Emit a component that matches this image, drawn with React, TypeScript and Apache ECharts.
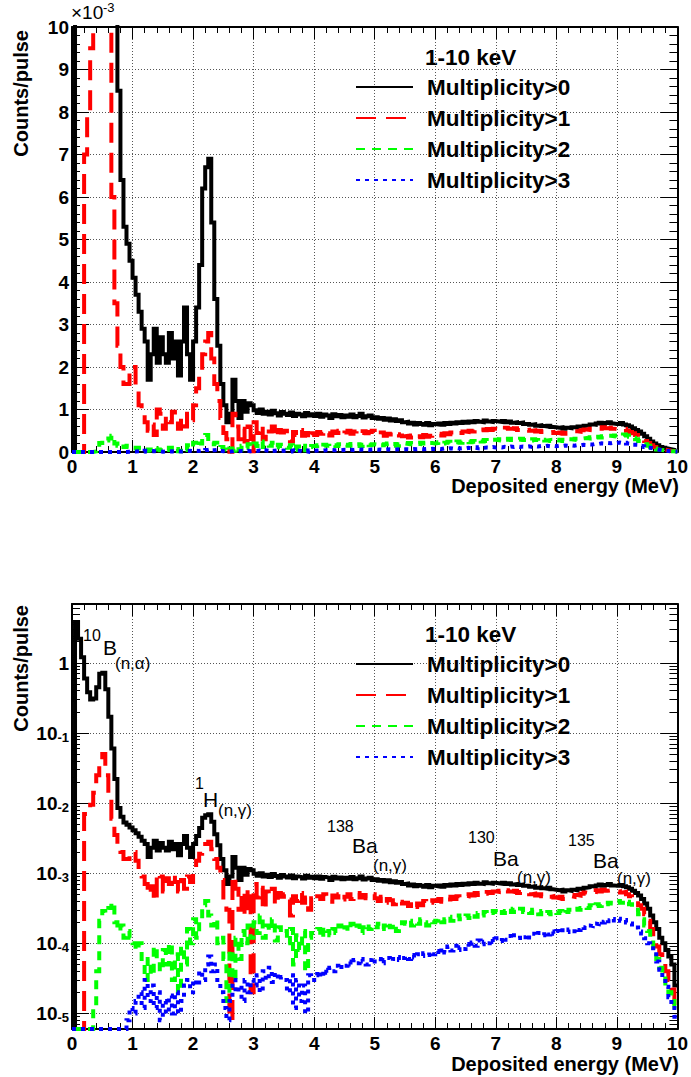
import React, { useEffect, useRef } from 'react';
import * as echarts from 'echarts';

const FONT = '"Liberation Sans", Arial, Helvetica, sans-serif';

// Histogram binning: 200 bins of 0.05 MeV from 0 to 10 MeV
const BIN_WIDTH = 0.05;
const xTickValues = [0, 1, 2, 3, 4, 5, 6, 7, 8, 9, 10];

const seriesNames = ['Multiplicity>0', 'Multiplicity>1', 'Multiplicity>2', 'Multiplicity>3'];

// Counts/pulse in units of 1e-3, one value per 0.05 MeV bin
const mult0 = [
  0, 3800, 2200, 1200, 600, 380, 300, 310, 450, 700,
  720, 420, 170, 60, 22, 8.5, 6.4, 5.3, 4.9, 4.5,
  4.1, 3.7, 3.3, 2.9, 2.6, 1.7, 2.3, 2.9, 2.1, 2.7,
  2.3, 2.1, 2.8, 2.2, 2.6, 1.8, 2.6, 3.4, 2.3, 1.7,
  2.6, 3.4, 4.4, 6.2, 6.7, 6.9, 5.4, 3.6, 2.5, 1.6,
  1.1, 0.7, 0.9, 1.7, 1.2, 0.8, 1.2, 0.95, 1.15, 1.1,
  0.98, 0.92, 1.0, 0.9, 0.95, 0.88, 0.97, 0.91, 0.86, 0.94,
  0.9, 0.87, 0.93, 0.85, 0.9, 0.88, 0.84, 0.92, 0.86, 0.89,
  0.85, 0.9, 0.83, 0.88, 0.86, 0.8, 0.89, 0.84, 0.87, 0.82,
  0.86, 0.83, 0.88, 0.82, 0.85, 0.9, 0.81, 0.84, 0.86, 0.8,
  0.82, 0.78, 0.8, 0.76, 0.79, 0.74, 0.77, 0.73, 0.75, 0.7,
  0.71, 0.67, 0.69, 0.65, 0.68, 0.66, 0.64, 0.68, 0.63, 0.66,
  0.65, 0.67, 0.64, 0.68, 0.66, 0.69, 0.67, 0.7, 0.68, 0.71,
  0.69, 0.72, 0.7, 0.73, 0.71, 0.7, 0.74, 0.72, 0.71, 0.73,
  0.72, 0.71, 0.73, 0.7, 0.72, 0.69, 0.7, 0.68, 0.69, 0.66,
  0.66, 0.64, 0.65, 0.62, 0.63, 0.61, 0.6, 0.62, 0.59, 0.58,
  0.57, 0.58, 0.55, 0.57, 0.56, 0.58, 0.57, 0.6, 0.59, 0.62,
  0.63, 0.65, 0.64, 0.67, 0.69, 0.66, 0.68, 0.7, 0.67, 0.66,
  0.66, 0.68, 0.65, 0.63, 0.6, 0.56, 0.52, 0.48, 0.43, 0.37,
  0.31, 0.25, 0.2, 0.16, 0.12, 0.1, 0.08, 0.065, 0.05, 0.025,
];

const mult1 = [
  0, 0, 0, 0, 7.0, 8.0, 9.5, 14, 25, 45,
  50, 25, 13, 6.0, 3.5, 2.5, 2.0, 1.6, 1.6, 1.9,
  2.0, 1.5, 1.1, 0.9, 0.7, 0.5, 0.65, 0.4, 1.0, 0.9,
  0.55, 0.85, 0.7, 0.95, 0.75, 0.55, 0.8, 0.6, 0.9, 0.75,
  1.1, 1.5, 1.9, 2.3, 2.6, 2.8, 2.2, 1.6, 1.2, 0.8,
  0.45, 0.3, 0.008, 0.9, 0.6, 0.3, 0.55, 0.25, 0.6, 0.02,
  0.7, 0.45, 0.62, 0.3, 0.55, 0.48, 0.6, 0.35, 0.52, 0.46,
  0.5, 0.42, 0.25, 0.47, 0.4, 0.52, 0.38, 0.45, 0.3, 0.44,
  0.4, 0.47, 0.43, 0.5, 0.44, 0.39, 0.48, 0.45, 0.5, 0.42,
  0.46, 0.5, 0.43, 0.48, 0.52, 0.45, 0.49, 0.44, 0.47, 0.5,
  0.44, 0.4, 0.46, 0.38, 0.43, 0.41, 0.36, 0.42, 0.39, 0.37,
  0.38, 0.34, 0.39, 0.33, 0.37, 0.35, 0.4, 0.36, 0.38, 0.41,
  0.4, 0.43, 0.39, 0.44, 0.42, 0.46, 0.43, 0.47, 0.45, 0.48,
  0.47, 0.5, 0.48, 0.52, 0.49, 0.53, 0.51, 0.54, 0.52, 0.55,
  0.54, 0.56, 0.53, 0.57, 0.55, 0.54, 0.56, 0.52, 0.54, 0.51,
  0.52, 0.5, 0.51, 0.48, 0.5, 0.47, 0.49, 0.46, 0.47, 0.45,
  0.44, 0.46, 0.43, 0.45, 0.47, 0.46, 0.49, 0.48, 0.51, 0.53,
  0.52, 0.55, 0.54, 0.57, 0.55, 0.58, 0.56, 0.57, 0.55, 0.54,
  0.55, 0.53, 0.54, 0.5, 0.47, 0.44, 0.4, 0.35, 0.31, 0.26,
  0.21, 0.16, 0.12, 0.09, 0.07, 0.055, 0.04, 0.03, 0.022, 0.013,
];

const mult2 = [
  0, 0, 0, 0, 0, 0, 0, 0.013, 0.04, 0.21,
  0.29, 0.27, 0.32, 0.38, 0.2, 0.15, 0.18, 0.12, 0.15, 0.12,
  0.1, 0.08, 0.1, 0.05, 0.03, 0.06, 0.035, 0.09, 0.06, 0.04,
  0.08, 0.05, 0.1, 0.03, 0.07, 0.02, 0.09, 0.05, 0.16, 0.1,
  0.22, 0.12, 0.2, 0.35, 0.4, 0.25, 0.18, 0.22, 0.1, 0.12,
  0.06, 0.015, 0.08, 0.03, 0.12, 0.06, 0.15, 0.1, 0.18, 0.12,
  0.2, 0.14, 0.25, 0.12, 0.18, 0.15, 0.22, 0.11, 0.17, 0.14,
  0.15, 0.1, 0.16, 0.05, 0.13, 0.08, 0.15, 0.04, 0.12, 0.14,
  0.14, 0.16, 0.12, 0.17, 0.15, 0.13, 0.16, 0.14, 0.18, 0.15,
  0.17, 0.15, 0.19, 0.16, 0.18, 0.14, 0.17, 0.19, 0.16, 0.18,
  0.17, 0.19, 0.16, 0.18, 0.2, 0.17, 0.19, 0.15, 0.18, 0.2,
  0.19, 0.21, 0.18, 0.2, 0.19, 0.22, 0.2, 0.18, 0.21, 0.2,
  0.21, 0.23, 0.2, 0.22, 0.24, 0.21, 0.23, 0.25, 0.22, 0.24,
  0.25, 0.23, 0.26, 0.24, 0.27, 0.25, 0.28, 0.26, 0.27, 0.29,
  0.28, 0.3, 0.27, 0.29, 0.31, 0.28, 0.3, 0.29, 0.31, 0.28,
  0.29, 0.27, 0.3, 0.28, 0.26, 0.29, 0.27, 0.28, 0.26, 0.28,
  0.27, 0.29, 0.26, 0.28, 0.3, 0.29, 0.31, 0.3, 0.32, 0.33,
  0.32, 0.35, 0.33, 0.36, 0.34, 0.37, 0.36, 0.38, 0.37, 0.39,
  0.4, 0.38, 0.41, 0.39, 0.36, 0.33, 0.3, 0.26, 0.22, 0.18,
  0.15, 0.11, 0.08, 0.06, 0.045, 0.035, 0.025, 0.02, 0.015, 0.011,
];

const mult3 = [
  0, 0, 0, 0, 0, 0, 0, 0, 0, 0,
  0, 0, 0, 0, 0, 0, 0, 0, 0.008, 0.012,
  0.01, 0.015, 0.02, 0.012, 0.03, 0.015, 0.025, 0.012, 0.02, 0.008,
  0.015, 0.01, 0.018, 0.01, 0.02, 0.01, 0.015, 0.025, 0.03, 0.02,
  0.03, 0.025, 0.04, 0.03, 0.05, 0.065, 0.04, 0.05, 0.03, 0.02,
  0.012, 0.008, 0.015, 0.03, 0.02, 0.025, 0.015, 0.03, 0.02, 0.03,
  0.025, 0.035, 0.02, 0.04, 0.03, 0.045, 0.028, 0.038, 0.03, 0.033,
  0.03, 0.02, 0.035, 0.012, 0.03, 0.015, 0.025, 0.01, 0.035, 0.03,
  0.035, 0.04, 0.033, 0.042, 0.038, 0.045, 0.04, 0.048, 0.043, 0.05,
  0.048, 0.055, 0.05, 0.058, 0.052, 0.06, 0.055, 0.05, 0.058, 0.062,
  0.055, 0.06, 0.052, 0.058, 0.062, 0.056, 0.06, 0.064, 0.058, 0.062,
  0.065, 0.06, 0.068, 0.063, 0.07, 0.066, 0.072, 0.068, 0.075, 0.07,
  0.078, 0.07, 0.085, 0.074, 0.09, 0.079, 0.092, 0.08, 0.088, 0.083,
  0.098, 0.088, 0.103, 0.092, 0.11, 0.097, 0.105, 0.1, 0.115, 0.104,
  0.118, 0.108, 0.122, 0.112, 0.127, 0.117, 0.13, 0.119, 0.128, 0.122,
  0.133, 0.121, 0.137, 0.128, 0.14, 0.13, 0.145, 0.134, 0.148, 0.137,
  0.15, 0.14, 0.153, 0.145, 0.158, 0.149, 0.163, 0.155, 0.17, 0.165,
  0.18, 0.176, 0.192, 0.188, 0.203, 0.198, 0.214, 0.206, 0.222, 0.212,
  0.224, 0.21, 0.215, 0.198, 0.192, 0.172, 0.168, 0.148, 0.138, 0.118,
  0.1, 0.085, 0.07, 0.055, 0.042, 0.032, 0.024, 0.017, 0.012, 0.009,
];

const seriesValues = [mult0, mult1, mult2, mult3];
const seriesColors = ['#000000', '#ff0000', '#00ff00', '#0000ff'];
const seriesDash: any[] = ['solid', [20, 10], [9, 7], [4, 5]];
const seriesWidth = [4, 4, 4, 4];

const LOG_MIN = 6e-6;
const LOG_MAX = 6.9;

// Histogram as step line: lower bin edges plus the closing edge.
// Empty bins sit on the bottom of a log axis, as in the original.
function histPoints(vals: number[], scale: number, floor: number | null) {
  const pts: number[][] = vals.map((v, i) => [
    i * BIN_WIDTH,
    floor !== null && v <= 0 ? floor : v * scale,
  ]);
  pts.push([vals.length * BIN_WIDTH, pts[pts.length - 1][1]]);
  return pts;
}

const black = '#000';
const gridLine = { show: true, lineStyle: { color: '#555', type: [1, 2] as any, width: 1 } };

function xAxes(gridIndex: number) {
  const base: any = {
    type: 'value', gridIndex, min: xTickValues[0], max: xTickValues[xTickValues.length - 1], interval: 1,
    axisLine: { show: true, onZero: false, lineStyle: { color: black, width: 2 } },
    axisTick: { show: true, inside: true, length: 12, lineStyle: { color: black, width: 1 } },
    minorTick: { show: true, splitNumber: 5, length: 6, lineStyle: { color: black, width: 1 } },
  };
  return [
    {
      ...base, position: 'bottom',
      splitLine: gridLine,
      axisLabel: { show: true, fontSize: 19, fontWeight: 'bold', fontFamily: FONT, color: black, margin: 5 },
    },
    { ...base, position: 'top', splitLine: { show: false }, axisLabel: { show: false } },
  ];
}

function logLabel(v: number) {
  const e = Math.log10(v);
  const r = Math.round(e);
  if (Math.abs(e - r) > 1e-6) return '';
  if (r === 0) return '{b|1}';
  return '{b|10}{s|' + r + '}';
}

function yAxesLinear(gridIndex: number) {
  const base: any = {
    type: 'value', gridIndex, min: 0, max: 10, interval: 1,
    axisLine: { show: true, onZero: false, lineStyle: { color: black, width: 2 } },
    axisTick: { show: true, inside: true, length: 17, lineStyle: { color: black, width: 1 } },
    minorTick: { show: true, splitNumber: 5, length: 8, lineStyle: { color: black, width: 1 } },
  };
  return [
    {
      ...base, position: 'left', splitLine: gridLine,
      axisLabel: { show: true, fontSize: 19, fontWeight: 'bold', fontFamily: FONT, color: black, margin: 3 },
    },
    { ...base, position: 'right', splitLine: { show: false }, axisLabel: { show: false } },
  ];
}

function yAxesLog(gridIndex: number) {
  const base: any = {
    type: 'log', logBase: 10, gridIndex, min: LOG_MIN, max: LOG_MAX,
    axisLine: { show: true, onZero: false, lineStyle: { color: black, width: 2 } },
    axisTick: { show: true, inside: true, length: 17, lineStyle: { color: black, width: 1 } },
    minorTick: { show: true, splitNumber: 9, length: 8, lineStyle: { color: black, width: 1 } },
  };
  return [
    {
      ...base, position: 'left', splitLine: gridLine,
      axisLabel: {
        show: true, margin: 3, formatter: logLabel,
        rich: {
          b: { fontSize: 19, fontWeight: 'bold', fontFamily: FONT, color: black, lineHeight: 20, verticalAlign: 'bottom' },
          s: { fontSize: 13, fontWeight: 'bold', fontFamily: FONT, color: black, lineHeight: 14, verticalAlign: 'top', padding: [8, 0, 8, 0] },
        },
      },
    },
    { ...base, position: 'right', splitLine: { show: false }, axisLabel: { show: false } },
  ];
}

function txt(text: string, x: number, y: number, size: number, weight: string, align = 'left', extra: any = {}) {
  return {
    type: 'text', x, y, ...extra,
    style: { text, fontSize: size, fontWeight: weight, fontFamily: FONT, fill: black, align, verticalAlign: 'middle' },
  };
}

const PANEL_OFFSET = 577;

export default function App() {
  const ref = useRef<HTMLDivElement>(null);
  useEffect(() => {
    if (!ref.current) return;
    const chart = echarts.init(ref.current, null, { renderer: 'svg' });

    const series: any[] = [];
    seriesValues.forEach((vals, k) => {
      const common = {
        type: 'line', name: seriesNames[k], step: 'end', symbol: 'none', showSymbol: false,
        clip: true, silent: true,
        lineStyle: { color: seriesColors[k], width: seriesWidth[k], type: seriesDash[k], join: 'miter' },
        itemStyle: { color: seriesColors[k] },
      };
      series.push({ ...common, xAxisIndex: 0, yAxisIndex: 0, data: histPoints(vals, 1, null) });
      series.push({ ...common, xAxisIndex: 2, yAxisIndex: 2, data: histPoints(vals, 1e-3, LOG_MIN) });
    });
    // order: draw black first, then red, green, blue
    series.sort((a, b) => seriesNames.indexOf(a.name) - seriesNames.indexOf(b.name));

    const legends = [0, PANEL_OFFSET].map((dy) => ({
      data: seriesNames, orient: 'vertical', left: 355, top: 75 + dy, padding: 0,
      itemGap: 7, itemWidth: 57, itemHeight: 1, selectedMode: false,
      itemStyle: { opacity: 0 },
      textStyle: { fontSize: 22.5, fontWeight: 'bold', fontFamily: FONT, color: black, lineHeight: 24, padding: [0, 0, 0, 9] },
    }));

    const graphics: any[] = [
      // multiplier of linear axis
      txt('×10', 71, 12, 19, 'normal'),
      txt('-3', 103, 7, 13, 'normal'),
      // legend headers
      txt('1-10 keV', 425, 57, 22.5, 'bold'),
      txt('1-10 keV', 425, 57 + PANEL_OFFSET, 22.5, 'bold'),
      // axis titles
      txt('Deposited energy (MeV)', 679, 486, 20, 'bold', 'right'),
      txt('Deposited energy (MeV)', 679, 1064, 20, 'bold', 'right'),
      txt('Counts/pulse', 21, 30, 20, 'bold', 'right', { rotation: Math.PI / 2 }),
      txt('Counts/pulse', 21, 605, 20, 'bold', 'right', { rotation: Math.PI / 2 }),
      // peak annotations
      txt('10', 83, 635, 16, 'normal'),
      txt('B', 103, 647, 21, 'normal'),
      txt('(n,α)', 115, 663, 17, 'normal'),
      txt('1', 195, 783, 16, 'normal'),
      txt('H', 203, 799, 21, 'normal'),
      txt('(n,γ)', 218, 810, 17, 'normal'),
      txt('138', 327, 826, 16, 'normal'),
      txt('Ba', 352, 845, 21, 'normal'),
      txt('(n,γ)', 373, 865, 17, 'normal'),
      txt('130', 468, 837, 16, 'normal'),
      txt('Ba', 493, 858, 21, 'normal'),
      txt('(n,γ)', 517, 877, 17, 'normal'),
      txt('135', 568, 840, 16, 'normal'),
      txt('Ba', 593, 860, 21, 'normal'),
      txt('(n,γ)', 617, 878, 17, 'normal'),
    ];

    chart.setOption({
      animation: false,
      backgroundColor: '#ffffff',
      grid: [
        { left: 72, top: 27, width: 607, height: 425 },
        { left: 72, top: 604, width: 607, height: 425 },
      ],
      xAxis: [...xAxes(0), ...xAxes(1)],
      yAxis: [...yAxesLinear(0), ...yAxesLog(1)],
      legend: legends,
      series,
      graphic: graphics,
    });
    return () => chart.dispose();
  }, []);
  return <div ref={ref} style={{ position: 'absolute', left: 0, top: 0, width: 691, height: 1077 }} />;
}
